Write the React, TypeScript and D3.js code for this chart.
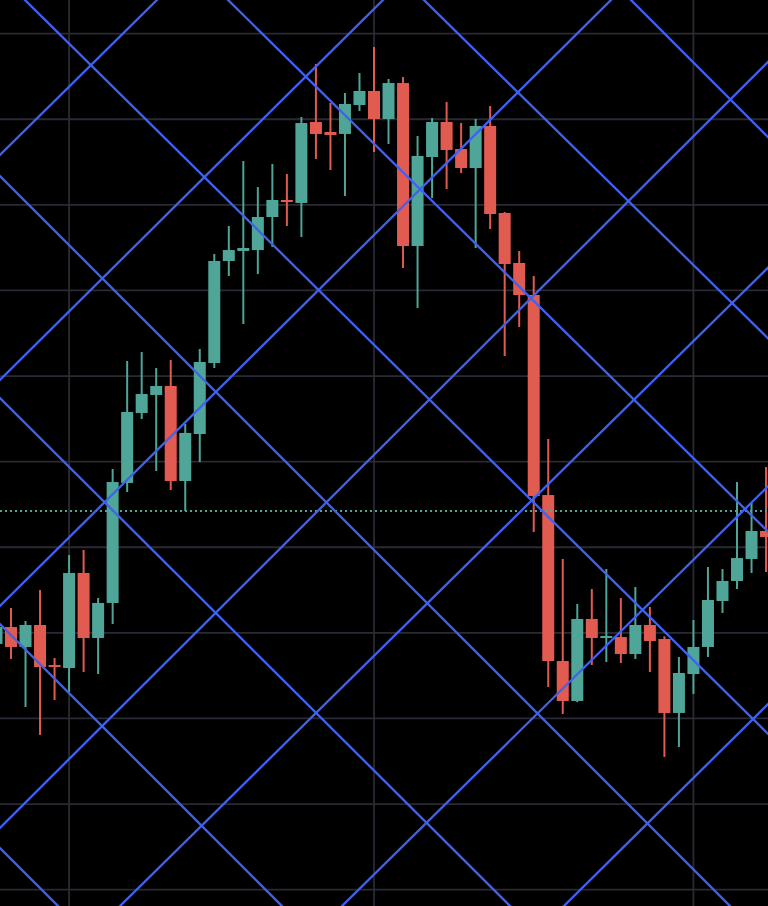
import React from 'react';
import * as d3 from 'd3';

const W = 768;
const H = 906;

// OHLC values, one per bar (bar index 0..53)
const opens = [138.70,140.68,138.35,140.92,136.24,135.89,146.99,139.40,143.49,157.51,165.68,167.79,168.84,157.74,163.23,171.52,183.44,184.61,184.72,188.58,190.57,190.22,199.68,198.51,198.28,201.66,203.30,200.03,204.23,185.19,195.59,199.68,196.52,194.30,199.21,189.05,183.21,179.47,156.10,136.71,132.04,141.62,139.40,139.51,137.53,140.92,139.28,130.64,135.19,138.35,143.72,146.06,148.63,151.90];
const highs = [141.27,142.90,141.38,145.00,137.06,149.09,149.68,144.07,159.14,171.76,172.81,170.94,171.87,164.40,173.16,184.26,187.53,195.12,192.08,194.77,193.60,200.26,206.45,201.90,203.07,205.40,208.44,204.70,204.93,198.04,200.14,202.01,199.56,200.03,201.55,189.16,184.61,181.69,162.65,148.63,143.37,145.12,147.46,144.07,145.36,143.02,139.60,137.18,141.50,147.69,147.46,157.62,155.17,159.37];
const lows = [138.00,136.94,131.34,128.07,132.15,133.09,135.43,135.19,141.03,156.45,164.98,158.91,156.69,154.23,159.96,170.94,181.69,176.08,181.92,185.07,187.53,186.24,195.36,194.07,191.03,200.96,196.17,197.11,182.62,177.95,190.80,191.85,193.72,184.96,187.18,172.34,175.73,151.78,133.67,130.52,131.90,136.24,136.59,136.48,136.94,135.43,125.50,126.66,132.86,137.18,142.32,145.12,146.99,147.11];
const closes = [140.68,138.35,140.92,136.01,136.01,146.99,139.40,143.49,157.62,165.80,167.90,168.84,157.74,163.35,171.64,183.44,184.72,184.96,188.58,190.57,190.33,199.56,198.28,198.16,201.78,203.30,200.03,204.23,185.19,195.71,199.68,196.41,194.30,199.21,188.93,183.09,179.47,155.99,136.71,132.04,141.62,139.40,139.63,137.53,140.92,139.05,130.64,135.31,138.35,143.84,146.06,148.74,151.90,151.20];

// horizontal grid price levels and vertical grid bar indices
const priceTicks = [110, 120, 130, 140, 150, 160, 170, 180, 190, 200, 210];
const timeGridBars = [5, 26, 48];
const lastPrice = 154.23;

// Gann lattice lines, each as two anchors [bar, price, bar, price]
const descendingLines = [
  [43.70, 213.93, 53.13, 197.93],
  [29.44, 213.93, 50.66, 178.53],
  [15.95, 213.93, 51.55, 154.47],
  [1.96, 213.93, 52.10, 129.93],
  [0.24, 193.37, 50.52, 108.09],
  [0.24, 167.43, 35.37, 108.09],
  [0.24, 141.03, 19.66, 108.09],
  [0.24, 114.86, 4.24, 108.09],
];
const ascendingLines = [
  [0.24, 195.82, 11.05, 213.93],
  [0.24, 169.54, 26.62, 213.93],
  [0.24, 143.14, 42.32, 213.93],
  [0.24, 117.20, 29.86, 167.32],
  [8.51, 108.09, 50.66, 178.53],
  [23.80, 108.09, 51.55, 154.47],
  [39.08, 108.09, 52.10, 129.93],
];

const UP = '#4fa597';
const DOWN = '#e25b50';
const GRID = '#2a2a35';
const BLUE = '#3f62f0';

export default function App() {
  React.useEffect(() => {
    document.body.style.margin = '0';
    document.body.style.background = '#000';
  }, []);

  const x = d3.scaleLinear().domain([0, 53]).range([-3.52, 766.04]);
  const y = d3.scaleLinear().domain([108.09, 213.93]).range([H, 0]);
  const bodyW = 12;

  const extend = (l: number[]) => {
    const x1 = x(l[0]), y1 = y(l[1]), x2 = x(l[2]), y2 = y(l[3]);
    const dx = x2 - x1, dy = y2 - y1;
    const t = 3000 / Math.hypot(dx, dy);
    return [x1 - dx * t, y1 - dy * t, x2 + dx * t, y2 + dy * t];
  };

  const bars = d3.range(opens.length);

  return (
    <svg width={W} height={H} style={{ position: 'fixed', left: 0, top: 0, display: 'block', background: '#000' }}>
      <defs>
        <clipPath id="plot"><rect x={0} y={0} width={W} height={H} /></clipPath>
      </defs>
      <rect x={0} y={0} width={W} height={H} fill="#000" />
      <g clipPath="url(#plot)">
        {priceTicks.map((p) => (
          <line key={'h' + p} x1={0} x2={W} y1={y(p)} y2={y(p)} stroke={GRID} strokeWidth={1.8} />
        ))}
        {timeGridBars.map((b) => (
          <line key={'v' + b} x1={x(b)} x2={x(b)} y1={0} y2={H} stroke={GRID} strokeWidth={1.8} />
        ))}
        {bars.map((i) => {
          const o = opens[i], c = closes[i];
          const col = c >= o ? UP : DOWN;
          const top = y(Math.max(o, c));
          const bot = y(Math.min(o, c));
          return (
            <g key={'c' + i}>
              <line x1={x(i)} x2={x(i)} y1={y(highs[i])} y2={y(lows[i])} stroke={col} strokeWidth={2} />
              <rect x={x(i) - bodyW / 2} y={top} width={bodyW} height={Math.max(1.5, bot - top)} fill={col} />
            </g>
          );
        })}
        <line x1={0} x2={W} y1={y(lastPrice)} y2={y(lastPrice)} stroke={UP} strokeWidth={2} strokeDasharray="2 3" />
        {descendingLines.concat(ascendingLines).map((l, k) => {
          const e = extend(l);
          return <line key={'g' + k} x1={e[0]} y1={e[1]} x2={e[2]} y2={e[3]} stroke={BLUE} strokeWidth={2.3} />;
        })}
      </g>
    </svg>
  );
}
